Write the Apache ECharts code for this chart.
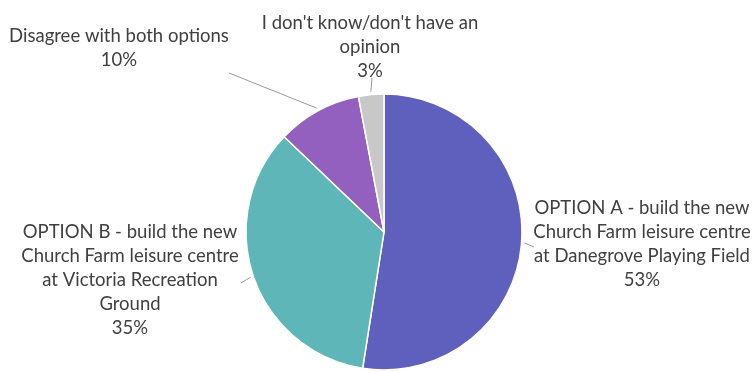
<!DOCTYPE html>
<html>
<head>
<meta charset="utf-8">
<script src="https://cdn.jsdelivr.net/npm/echarts@6/dist/echarts.min.js"></script>
<style>
  html, body { margin: 0; padding: 0; background: #ffffff; }
  #chart { width: 756px; height: 372px; }
</style>
</head>
<body>
<div id="chart"></div>
<script>
// Survey responses (percent of respondents)
const categories = [
  'OPTION A - build the new\nChurch Farm leisure centre\nat Danegrove Playing Field',
  'OPTION B - build the new\nChurch Farm leisure centre\nat Victoria Recreation\nGround',
  'Disagree with both options',
  "I don't know/don't have an\nopinion"
];
const values = [53, 35, 10, 3];
const colors = ['#5F5FBD', '#5FB6B8', '#9360BF', '#C8C8C8'];

// Label centres and leader-line ends, in pixels
const labelSpots = [
  [642, 244],
  [130, 280],
  [119, 48],
  [370, 47]
];
const leaderEnds = [
  [534, 247],
  [241, 283],
  [229, 73],
  [372, 78]
];

const CENTER = [384, 232];
const RADIUS = 138;

const chart = echarts.init(document.getElementById('chart'), null, { renderer: 'canvas' });

chart.setOption({
  animation: false,
  backgroundColor: '#ffffff',
  series: [{
    type: 'pie',
    center: CENTER,
    radius: RADIUS,
    startAngle: 90,
    clockwise: true,
    data: categories.map((name, i) => ({
      name: name,
      value: values[i],
      itemStyle: { color: colors[i] }
    })),
    itemStyle: { borderColor: '#ffffff', borderWidth: 1.5 },
    label: {
      show: true,
      position: 'outside',
      formatter: p => p.name + '\n' + p.value + '%',
      color: '#404040',
      fontFamily: 'Lato',
      fontSize: 18.5,
      lineHeight: 24,
      align: 'center',
      overflow: 'none',
      edgeDistance: 0
    },
    labelLine: {
      show: true,
      length: 8,
      length2: 0,
      lineStyle: { color: '#999999', width: 1 }
    },
    labelLayout: function (params) {
      const i = params.dataIndex;
      const s = labelSpots[i];
      const out = { x: s[0], y: s[1], align: 'center', verticalAlign: 'middle' };
      const pts = params.labelLinePoints;
      if (pts && pts.length) {
        // start the leader a few pixels outside the slice edge
        const a = pts[0];
        const dx = a[0] - CENTER[0], dy = a[1] - CENTER[1];
        const d = Math.sqrt(dx * dx + dy * dy) || 1;
        const start = [a[0] + dx / d * 3, a[1] + dy / d * 3];
        const end = leaderEnds[i];
        out.labelLinePoints = [start, end, end];
      }
      return out;
    },
    emphasis: { disabled: true }
  }]
});
</script>
</body>
</html>
